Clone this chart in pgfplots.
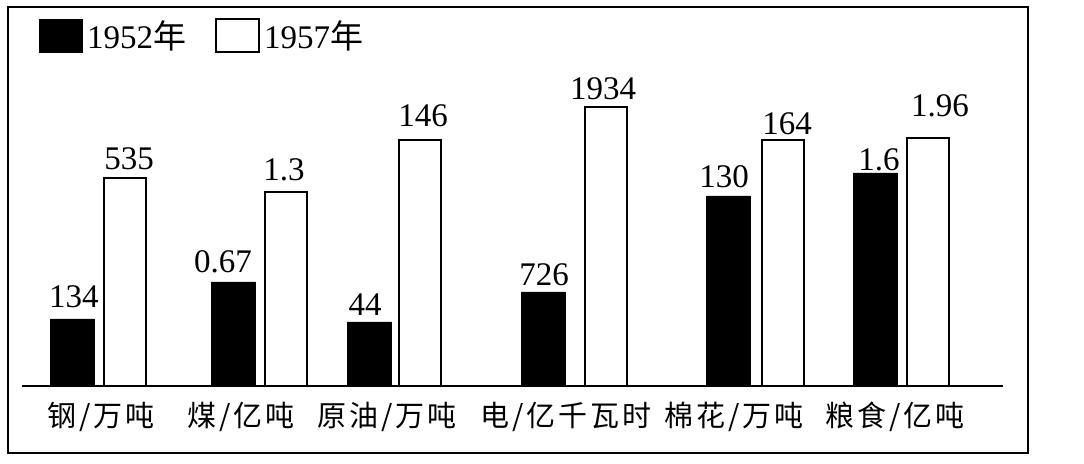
\documentclass[border=0pt]{standalone}
\usepackage{fontspec}
\setmainfont{Liberation Serif}
\newfontfamily\cjk{Noto Sans CJK SC}
\newfontfamily\cjkspaced[LetterSpace=10]{Noto Sans CJK SC}
\usepackage{pgfplots}
\pgfplotsset{compat=1.18}
\begin{document}
\begin{tikzpicture}
\begin{axis}[
  scale only axis,
  width=490.5pt, height=189.5pt,
  xmin=22, xmax=1003, ymin=0, ymax=379,
  clip=false,
  axis x line=bottom,
  axis y line=none,
  x axis line style={-, line width=1pt},
  xtick={101,241,387,566,734,895},
  xticklabels={钢/万吨,煤/亿吨,原油/万吨,电/亿千瓦时,棉花/万吨,粮食/亿吨},
  major tick length=0pt,
  xticklabel style={font=\cjkspaced\fontsize{14.5}{14.5}\selectfont, anchor=base, inner sep=0pt, yshift=-20.5pt},
  legend columns=2,
  legend style={at={(0.0173,0.9763)}, anchor=north west, draw=none, fill=none, inner sep=0pt,
    font=\fontsize{16.5}{16.5}\selectfont,
    /tikz/every even column/.append style={column sep=12.5pt}},
  legend image code/.code={\draw[#1,/tikz/.cd] (0pt,-8.25pt) rectangle (21.5pt,8.25pt);},
]
\addplot[ybar, bar width=44, bar shift=0pt, fill=black, draw=black]
  coordinates {(72.5,67) (233,104) (369,64) (543,94) (728.5,190) (875,213)};
\addlegendentry{1952{\cjk 年}}
\addplot[ybar, bar width=42, bar shift=0pt, fill=white, draw=black, line width=1pt]
  coordinates {(125,208) (286,194) (420,246) (605.5,279) (782.5,246) (927.5,248)};
\addlegendentry{1957{\cjk 年}}
\addplot[forget plot, only marks, mark=none, nodes near coords, point meta=explicit symbolic,
  nodes near coords style={anchor=base, inner sep=0pt, font=\fontsize{16.5}{16.5}\selectfont}]
  table[meta=lab] {
x y lab
74 78 134
129 216 535
223 113 0.67
284 205 1.3
365 70 44
423 259 146
544 100 726
603 286 1934
724 198 130
787 251 164
879 215 1.6
940 269 1.96
};
\draw[line width=1.2pt] (axis cs:8,-67) rectangle (axis cs:1028,379);
\path (axis cs:0,-78) rectangle (axis cs:1084,386);
\end{axis}
\end{tikzpicture}
\end{document}
